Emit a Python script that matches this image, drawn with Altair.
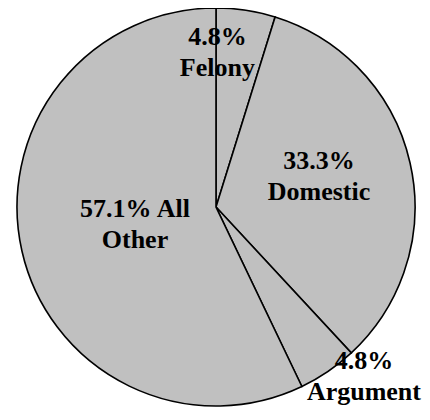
import altair as alt
import numpy as np
import pandas as pd

# Data
categories = ["Felony", "Domestic", "Argument", "All Other"]
percents = [4.8, 33.3, 4.8, 57.1]
label_line1 = ["4.8%", "33.3%", "4.8%", "57.1% All"]
label_line2 = ["Felony", "Domestic", "Argument", "Other"]

# Label placement (style): angle in degrees clockwise from 12 o'clock, radius px
label_angle = [0.5, 69.9, 137.6, 263.2]
label_radius = [162, 109.7, 219.4, 81.6]

cx, cy, R = 208, 199, 199
SERIF = "Liberation Serif"

df = pd.DataFrame({
    "category": categories,
    "value": percents,
    "order": list(range(len(categories))),
})
ang = np.radians(label_angle)
lab = pd.DataFrame({
    "line1": label_line1,
    "line2": label_line2,
    "px": cx + np.array(label_radius) * np.sin(ang),
    "py": cy - np.array(label_radius) * np.cos(ang),
})

arcs = alt.Chart(df).mark_arc(
    radius=R, fill="#c0c0c0", stroke="black", strokeWidth=1.6
).encode(
    theta=alt.Theta("value:Q", stack=True),
    order=alt.Order("order:Q"),
    x=alt.value(cx),
    y=alt.value(cy),
)

def text_layer(field, dy):
    return alt.Chart(lab).mark_text(
        font=SERIF, fontWeight="bold", fontSize=26, color="black",
        align="center", baseline="alphabetic", dy=dy,
    ).encode(
        x=alt.X("px:Q", scale=None, axis=None),
        y=alt.Y("py:Q", scale=None, axis=None),
        text=alt.Text(f"{field}:N"),
    )

chart = alt.layer(arcs, text_layer("line1", 0), text_layer("line2", 31)).properties(
    width=414, height=399, padding=0,
    autosize=alt.AutoSizeParams(type="none"),
).configure_view(stroke=None)

chart.save("out.html", embed_options={"renderer": "svg", "actions": False})
